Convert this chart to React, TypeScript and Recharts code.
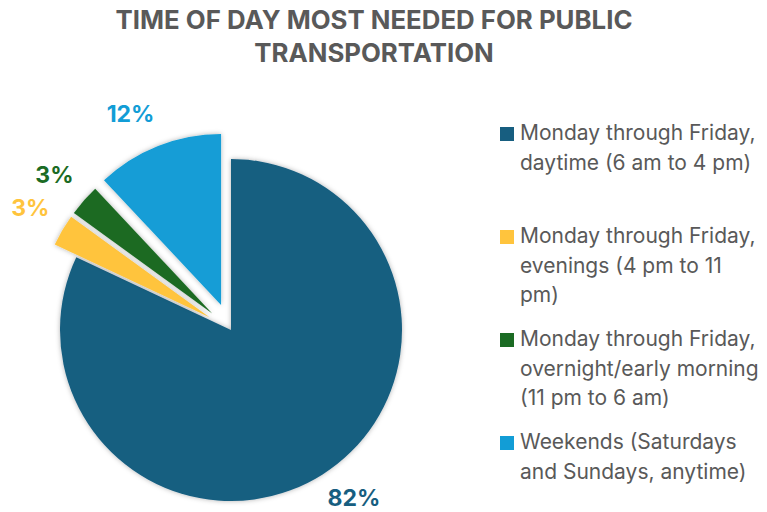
import { Cell, Legend, Pie, PieChart } from "recharts";

const categories = [
  "Monday through Friday, daytime (6 am to 4 pm)",
  "Monday through Friday, evenings (4 pm to 11 pm)",
  "Monday through Friday, overnight/early morning (11 pm to 6 am)",
  "Weekends (Saturdays and Sundays, anytime)",
];
const shares = [82, 3, 3, 12];
const colors = ["#175E80", "#FFC43D", "#1B6B24", "#129DD6"];
const explode = [0, 25, 25, 27];

const data = categories.map((name, i) => ({ name, value: shares[i] }));

const RAD = Math.PI / 180;
const total = shares.reduce((a, b) => a + b, 0);
const W = 767;
const H = 512;
const CX = 231;
const CY = 330;
const R = 171;

// offset of each exploded slice along its mid angle
const offsets = shares.map((v, i) => {
  const before = shares.slice(0, i).reduce((a, b) => a + b, 0);
  const mid = 90 - (360 * (before + v / 2)) / total;
  return {
    dx: explode[i] * Math.cos(mid * RAD),
    dy: -explode[i] * Math.sin(mid * RAD),
  };
});

const makeLabel = (only: number) => (props: any) => {
  const { cx, cy, midAngle, outerRadius, index, value } = props;
  if (index !== only) return null;
  const text = `${value}%`;
  const cos = Math.cos(-midAngle * RAD);
  const sin = Math.sin(-midAngle * RAD);
  const w = text.length * 13;
  const h = 22;
  const x = cx + (outerRadius + 22) * cos + (Math.sign(cos) * w) / 2;
  const y = Math.min(cy + (outerRadius + 22) * sin + (Math.sign(sin) * h) / 2, H - 14);
  return (
    <text
      x={x}
      y={y}
      fill={colors[index]}
      textAnchor="middle"
      dominantBaseline="central"
      fontSize={23}
      fontWeight={700}
      fontFamily="Inter, sans-serif"
    >
      {text}
    </text>
  );
};

const renderLegend = () => (
  <div style={{ fontFamily: "Inter, sans-serif", fontSize: 21, color: "#595959" }}>
    {categories.map((c, i) => (
      <div key={c} style={{ display: "flex", height: 103, lineHeight: "29.5px" }}>
        <span
          style={{
            width: 14,
            height: 14,
            background: colors[i],
            marginTop: 9,
            marginRight: 6,
            flexShrink: 0,
          }}
        />
        <span style={{ width: 241 }}>{c}</span>
      </div>
    ))}
  </div>
);

export default function App() {
  return (
    <div style={{ position: "absolute", left: 0, top: 0, width: W, height: H, background: "#fff" }}>
      <div
        style={{
          position: "absolute",
          left: 0,
          top: 3,
          width: 748,
          textAlign: "center",
          fontFamily: "Inter, sans-serif",
          fontWeight: 700,
          fontSize: 25.8,
          lineHeight: "33px",
          color: "#595959",
        }}
      >
        TIME OF DAY MOST NEEDED FOR PUBLIC
        <br />
        TRANSPORTATION
      </div>
      <PieChart width={W} height={H} margin={{ top: 0, right: 0, bottom: 0, left: 0 }}>
        <defs>
          <filter id="sliceShadow" x="-20%" y="-20%" width="140%" height="140%">
            <feDropShadow dx="0" dy="0" stdDeviation="2.5" floodColor="#000" floodOpacity="0.3" />
          </filter>
        </defs>
        {shares.map((_, i) => (
          <Pie
            key={i}
            data={data}
            dataKey="value"
            nameKey="name"
            cx={CX + offsets[i].dx}
            cy={CY + offsets[i].dy}
            outerRadius={R}
            startAngle={90}
            endAngle={-270}
            stroke="none"
            labelLine={false}
            label={makeLabel(i)}
            isAnimationActive={false}
            legendType={i === 0 ? "square" : "none"}
          >
            {data.map((d, j) => (
              <Cell
                key={d.name}
                fill={j === i ? colors[j] : "none"}
                filter={j === i ? "url(#sliceShadow)" : undefined}
              />
            ))}
          </Pie>
        ))}
        <Legend
          layout="vertical"
          content={renderLegend}
          wrapperStyle={{ position: "absolute", left: 500, top: 118, width: 267 }}
        />
      </PieChart>
    </div>
  );
}
